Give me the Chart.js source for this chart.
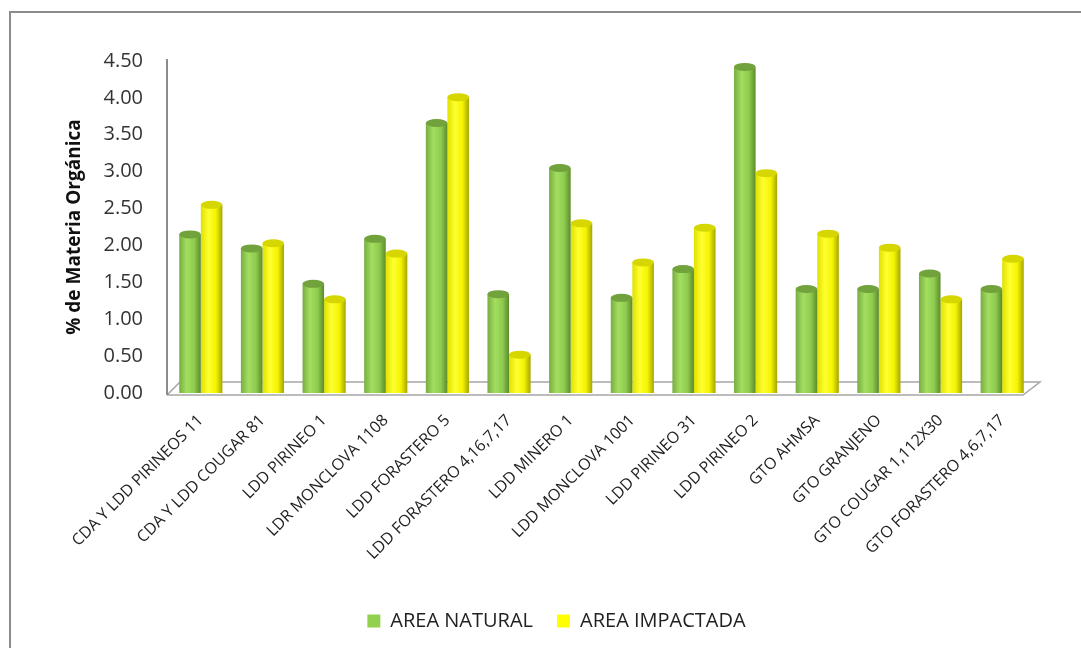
<!DOCTYPE html>
<html>
<head>
<meta charset="utf-8">
<script src="https://cdn.jsdelivr.net/npm/chart.js@4.4.1/dist/chart.umd.min.js"></script>
<style>
  html, body { margin: 0; padding: 0; background: #fff; }
  #wrap { position: relative; width: 1081px; height: 648px; overflow: hidden; }
  #frame { position: absolute; left: 9px; top: 11px; width: 1200px; height: 800px;
           border-top: 2px solid #8c8c8c; border-left: 2px solid #8c8c8c; }
  #chart { position: absolute; left: 0; top: 0; }
</style>
</head>
<body>
<div id="wrap">
  <div id="frame"></div>
  <canvas id="chart" width="1081" height="648"></canvas>
</div>
<script>
// categories + series
const categories = [
  'CDA Y LDD PIRINEOS 11', 'CDA Y LDD COUGAR 81', 'LDD PIRINEO 1', 'LDR MONCLOVA 1108',
  'LDD FORASTERO 5', 'LDD FORASTERO 4,16,7,17', 'LDD MINERO 1', 'LDD MONCLOVA 1001',
  'LDD PIRINEO 31', 'LDD PIRINEO 2', 'GTO AHMSA', 'GTO GRANJENO',
  'GTO COUGAR 1,112X30', 'GTO FORASTERO 4,6,7,17'
];
const areaNatural   = [2.15, 1.96, 1.48, 2.09, 3.66, 1.34, 3.05, 1.29, 1.68, 4.42, 1.41, 1.41, 1.62, 1.41];
const areaImpactada = [2.55, 2.03, 1.27, 1.89, 4.01, 0.52, 2.30, 1.77, 2.24, 2.98, 2.16, 1.97, 1.27, 1.82];
const yTicks = [0, 0.5, 1, 1.5, 2, 2.5, 3, 3.5, 4, 4.5];

const FONT = "'Open Sans', sans-serif";

// cylinder shading per series
const shades = [
  { stops: ['#78ad40', '#a3de60', '#8ecb4e', '#5c8b2c'], cap: '#71a23c' },
  { stops: ['#e0e000', '#ffff30', '#f4f400', '#a6a600'], cap: '#d6d600' }
];

// Floor + y axis line, drawn from the scales
const floorPlugin = {
  id: 'floor',
  beforeDatasetsDraw(chart) {
    const { ctx, chartArea } = chart;
    const y = chart.scales.y;
    const base = y.getPixelForValue(0);
    const x0 = chartArea.left - 3;
    const x1 = chartArea.right - 10;
    const dx = 17, dy = 13;
    const front = base + 2;
    ctx.save();
    ctx.strokeStyle = '#a6a6a6';
    ctx.lineWidth = 1.5;
    ctx.beginPath();
    ctx.moveTo(x0, front);
    ctx.lineTo(x1, front);
    ctx.lineTo(x1 + dx, front - dy);
    ctx.lineTo(x0 + dx - 4, front - dy);
    ctx.lineTo(x0, front);
    ctx.stroke();
    // vertical axis line
    ctx.strokeStyle = '#8c8c8c';
    ctx.lineWidth = 2;
    ctx.beginPath();
    ctx.moveTo(x0, y.getPixelForValue(4.5) - 2);
    ctx.lineTo(x0, front);
    ctx.stroke();
    ctx.restore();

    // cylinder gradients per bar
    chart.data.datasets.forEach((ds, di) => {
      const meta = chart.getDatasetMeta(di);
      const s = shades[di];
      meta.data.forEach(el => {
        const g = ctx.createLinearGradient(el.x - el.width / 2, 0, el.x + el.width / 2, 0);
        g.addColorStop(0, s.stops[0]);
        g.addColorStop(0.35, s.stops[1]);
        g.addColorStop(0.7, s.stops[2]);
        g.addColorStop(1, s.stops[3]);
        el.options = Object.assign({}, el.options, { backgroundColor: g });
      });
    });
  },
  afterDatasetsDraw(chart) {
    const { ctx } = chart;
    chart.data.datasets.forEach((ds, di) => {
      const meta = chart.getDatasetMeta(di);
      const s = shades[di];
      meta.data.forEach(el => {
        const r = el.width / 2;
        ctx.save();
        // rounded bottom
        ctx.fillStyle = el.options.backgroundColor;
        ctx.beginPath();
        ctx.ellipse(el.x, el.base - 4, r, 3.5, 0, 0, Math.PI);
        ctx.fill();
        // top cap
        ctx.fillStyle = s.cap;
        ctx.beginPath();
        ctx.ellipse(el.x, el.y, r, 4, 0, 0, Math.PI * 2);
        ctx.fill();
        ctx.restore();
      });
    });
  }
};

new Chart(document.getElementById('chart'), {
  type: 'bar',
  data: {
    labels: categories,
    datasets: [
      { label: 'AREA NATURAL', data: areaNatural, backgroundColor: '#92D050',
        barPercentage: 1, categoryPercentage: 0.7 },
      { label: 'AREA IMPACTADA', data: areaImpactada, backgroundColor: '#FFFF00',
        barPercentage: 1, categoryPercentage: 0.7 }
    ]
  },
  options: {
    responsive: false,
    animation: false,
    devicePixelRatio: 1,
    layout: { padding: { left: 80, right: 48, top: 61, bottom: 7 } },
    plugins: {
      tooltip: { enabled: false },
      legend: {
        position: 'bottom',
        labels: {
          color: '#222',
          font: { family: FONT, size: 20 },
          boxWidth: 13, boxHeight: 13,
          padding: 24
        }
      }
    },
    scales: {
      x: {
        grid: { display: false, drawTicks: false },
        border: { display: false },
        ticks: {
          autoSkip: false, minRotation: 45, maxRotation: 45,
          padding: 18,
          color: '#222',
          font: { family: FONT, size: 16 }
        },
        afterFit: s => { s.height = 194; }
      },
      y: {
        min: 0, max: 4.5,
        grid: { display: false, drawTicks: false },
        border: { display: false },
        afterBuildTicks: s => { s.ticks = yTicks.map(v => ({ value: v })); },
        ticks: {
          padding: 27,
          color: '#333',
          font: { family: FONT, size: 20 },
          callback: v => Number(v).toFixed(2)
        },
        title: {
          display: true,
          text: '% de Materia Orgánica',
          color: '#111',
          font: { family: FONT, size: 19, weight: 'bold' },
          padding: { top: -17, bottom: 0 }
        },
        afterFit: s => { s.width = 90; }
      }
    }
  },
  plugins: [floorPlugin]
});
</script>
</body>
</html>
